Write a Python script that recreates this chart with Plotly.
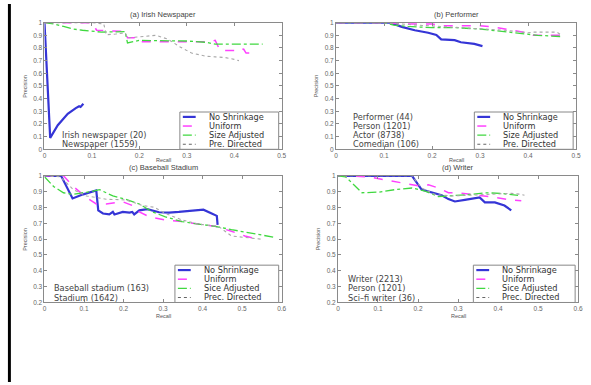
import plotly.graph_objects as go

W, H = 591, 385

# ---------------- data ----------------
titles = ["(a) Irish Newspaper", "(b) Performer", "(c) Baseball Stadium", "(d) Writer"]
series_names_ab = ["No Shrinkage", "Uniform", "Size Adjusted", "Pre. Directed"]
series_names_cd = ["No Shrinkage", "Uniform", "Sice Adjusted", "Prec. Directed"]
notes = [
    ["Irish newspaper (20)", "Newspaper (1559)"],
    ["Performer (44)", "Person (1201)", "Actor (8738)", "Comedian (106)"],
    ["Baseball stadium (163)", "Stadium (1642)"],
    ["Writer (2213)", "Person (1201)", "Sci\u2013fi writer (36)"],
]
x_ticks_ab = [0, 0.1, 0.2, 0.3, 0.4, 0.5]
x_ticks_cd = [0, 0.1, 0.2, 0.3, 0.4, 0.5, 0.6]
y_ticks_ab = [0, 0.1, 0.2, 0.3, 0.4, 0.5, 0.6, 0.7, 0.8, 0.9, 1]
y_ticks_cd = [0.2, 0.3, 0.4, 0.5, 0.6, 0.7, 0.8, 0.9, 1]

# (a) Irish Newspaper
a_ns_x = [0, 0.012, 0.028, 0.049, 0.066, 0.073, 0.076, 0.082]
a_ns_y = [1, 0.09, 0.19, 0.28, 0.325, 0.34, 0.335, 0.36]
a_un_x = [0, 0.10, 0.105, 0.11, 0.17, 0.175, 0.19, 0.195, 0.35, 0.36, 0.37, 0.40, 0.41, 0.42, 0.425, 0.445]
a_un_y = [1, 1, 0.97, 0.94, 0.93, 0.88, 0.88, 0.85, 0.85, 0.86, 0.78, 0.78, 0.80, 0.79, 0.76, 0.76]
a_sa_x = [0, 0.02, 0.04, 0.06, 0.08, 0.10, 0.12, 0.17, 0.175, 0.20, 0.30, 0.34, 0.36, 0.46]
a_sa_y = [1, 0.99, 0.97, 0.95, 0.94, 0.93, 0.925, 0.93, 0.84, 0.86, 0.855, 0.845, 0.83, 0.83]
a_pd_x = [0, 0.10, 0.125, 0.13, 0.15, 0.17, 0.175, 0.20, 0.235, 0.26, 0.285, 0.31, 0.34, 0.36, 0.38, 0.40, 0.41]
a_pd_y = [1, 1, 0.99, 0.905, 0.91, 0.92, 0.88, 0.89, 0.90, 0.87, 0.81, 0.76, 0.735, 0.73, 0.725, 0.71, 0.70]

# (b) Performer
b_ns_x = [0, 0.113, 0.137, 0.164, 0.192, 0.209, 0.219, 0.233, 0.247, 0.26, 0.274, 0.288, 0.305]
b_ns_y = [1, 1, 0.967, 0.94, 0.92, 0.903, 0.868, 0.865, 0.862, 0.845, 0.838, 0.832, 0.815]
b_un_x = [0, 0.1, 0.15, 0.2, 0.22, 0.3, 0.33, 0.36, 0.39, 0.41, 0.47]
b_un_y = [1, 1, 0.99, 0.99, 0.975, 0.975, 0.965, 0.945, 0.925, 0.9, 0.9]
b_sa_x = [0, 0.1, 0.12, 0.15, 0.2, 0.25, 0.3, 0.35, 0.4, 0.42, 0.47]
b_sa_y = [1, 1, 0.98, 0.97, 0.96, 0.96, 0.95, 0.93, 0.91, 0.9, 0.89]
b_pd_x = [0, 0.1, 0.15, 0.2, 0.25, 0.3, 0.35, 0.4, 0.41, 0.46, 0.47]
b_pd_y = [1, 1, 0.985, 0.975, 0.965, 0.955, 0.94, 0.92, 0.925, 0.925, 0.9]

# (c) Baseball Stadium
c_ns_x = [0, 0.042, 0.071, 0.098, 0.131, 0.136, 0.148, 0.164, 0.173, 0.177, 0.198, 0.215, 0.222, 0.227,
          0.24, 0.26, 0.29, 0.315, 0.34, 0.39, 0.402, 0.423, 0.436, 0.438]
c_ns_y = [1, 1, 0.857, 0.883, 0.907, 0.782, 0.762, 0.756, 0.772, 0.756, 0.772, 0.768, 0.772, 0.756,
          0.782, 0.79, 0.77, 0.768, 0.772, 0.782, 0.786, 0.762, 0.747, 0.69]
c_un_x = [0, 0.048, 0.073, 0.106, 0.131, 0.156, 0.198, 0.223, 0.24, 0.265, 0.306, 0.348, 0.39, 0.432,
          0.473, 0.507, 0.54]
c_un_y = [1, 1, 0.933, 0.863, 0.822, 0.822, 0.836, 0.812, 0.772, 0.741, 0.721, 0.711, 0.695, 0.681,
          0.65, 0.62, 0.6]
c_sa_x = [0, 0.023, 0.048, 0.073, 0.123, 0.139, 0.173, 0.206, 0.24, 0.273, 0.306, 0.348, 0.39, 0.432,
          0.473, 0.515, 0.557, 0.585]
c_sa_y = [0.994, 0.933, 0.893, 0.883, 0.903, 0.913, 0.873, 0.852, 0.822, 0.772, 0.741, 0.711, 0.695,
          0.681, 0.66, 0.64, 0.62, 0.61]
c_pd_x = [0, 0.04, 0.073, 0.106, 0.156, 0.206, 0.248, 0.277, 0.306, 0.348, 0.39, 0.44, 0.473, 0.507, 0.548]
c_pd_y = [1, 0.994, 0.913, 0.873, 0.852, 0.848, 0.812, 0.802, 0.762, 0.721, 0.695, 0.681, 0.62, 0.61, 0.6]

# (d) Writer
d_ns_x = [0, 0.185, 0.209, 0.234, 0.259, 0.276, 0.292, 0.317, 0.354, 0.367, 0.392, 0.416, 0.433]
d_ns_y = [1, 1, 0.913, 0.893, 0.877, 0.853, 0.838, 0.848, 0.863, 0.832, 0.832, 0.812, 0.782]
d_un_x = [0, 0.077, 0.118, 0.168, 0.201, 0.226, 0.251, 0.276, 0.3, 0.334, 0.367, 0.392, 0.433, 0.458]
d_un_y = [1, 0.994, 0.974, 0.954, 0.937, 0.943, 0.923, 0.893, 0.893, 0.883, 0.873, 0.863, 0.848, 0.842]
d_sa_x = [0, 0.019, 0.044, 0.06, 0.102, 0.143, 0.185, 0.218, 0.251, 0.284, 0.334, 0.367, 0.408, 0.45]
d_sa_y = [1, 0.994, 0.933, 0.893, 0.897, 0.913, 0.923, 0.903, 0.869, 0.873, 0.883, 0.893, 0.889, 0.877]
d_pd_x = [0, 0.185, 0.209, 0.242, 0.284, 0.334, 0.383, 0.433, 0.458, 0.466]
d_pd_y = [1, 1, 0.923, 0.883, 0.873, 0.877, 0.883, 0.889, 0.883, 0.877]

panel_series = [
    [(a_ns_x, a_ns_y), (a_un_x, a_un_y), (a_sa_x, a_sa_y), (a_pd_x, a_pd_y)],
    [(b_ns_x, b_ns_y), (b_un_x, b_un_y), (b_sa_x, b_sa_y), (b_pd_x, b_pd_y)],
    [(c_ns_x, c_ns_y), (c_un_x, c_un_y), (c_sa_x, c_sa_y), (c_pd_x, c_pd_y)],
    [(d_ns_x, d_ns_y), (d_un_x, d_un_y), (d_sa_x, d_sa_y), (d_pd_x, d_pd_y)],
]

# ---------------- style / layout ----------------
styles = [
    dict(color="#3535d6", width=2.2, dash="solid"),
    dict(color="#ff40ff", width=1.5, dash="dash"),
    dict(color="#40d840", width=1.3, dash="dashdot"),
    dict(color="#a8a8a8", width=1.1, dash="dot"),
]
legend_sample = [
    dict(color="#3535d6", width=2.2, dash="solid"),
    dict(color="#ff40ff", width=1.5, dash="dash"),
    dict(color="#40d840", width=1.3, dash="dashdot"),
    dict(color="#666666", width=1.1, dash="dot"),
]

# pixel boxes of each panel: left, right, top, bottom
boxes = [(43, 283, 19, 148), (338, 581, 19, 148), (43, 283, 175, 304), (340, 583, 175, 304)]
xranges = [[0, 0.5], [0, 0.5], [0, 0.6], [0, 0.6]]
yranges = [[0, 1], [0, 1], [0.2, 1], [0.2, 1]]
xticks = [x_ticks_ab, x_ticks_ab, x_ticks_cd, x_ticks_cd]
yticks = [y_ticks_ab, y_ticks_ab, y_ticks_cd, y_ticks_cd]
legend_w = [100, 100, 105, 103]
note_dx = [17, 16, 9, 9]
recall_dy = [10.5, 10.5, 13.5, 13.5]

def px(x):
    return x / W

def py(y):
    return 1 - y / H

FONT = "Liberation Sans, Arial, sans-serif"
TFONT = "DejaVu Sans, Liberation Sans, sans-serif"
fig = go.Figure()
layout = dict(
    width=W, height=H, margin=dict(l=0, r=0, t=0, b=0),
    paper_bgcolor="white", plot_bgcolor="white", showlegend=False,
    font=dict(family=FONT, color="#555"),
)
shapes = []
annotations = []

for i in range(4):
    l, r, t, b = boxes[i]
    xa = "xaxis" if i == 0 else f"xaxis{i+1}"
    ya = "yaxis" if i == 0 else f"yaxis{i+1}"
    xid = "x" if i == 0 else f"x{i+1}"
    yid = "y" if i == 0 else f"y{i+1}"
    common = dict(showgrid=False, zeroline=False, showline=True, linecolor="#8a8a8a", linewidth=1,
                  mirror="ticks", ticks="inside", ticklen=3, tickcolor="#8a8a8a",
                  tickfont=dict(size=6.5, color="#666", family=FONT))
    layout[xa] = dict(domain=[px(l), px(r)], range=xranges[i], anchor=yid,
                      tickvals=xticks[i], ticktext=[f"{v:g}" for v in xticks[i]], **common)
    layout[ya] = dict(domain=[py(b), py(t)], range=yranges[i], anchor=xid,
                      tickvals=yticks[i], ticktext=[f"{v:g}" for v in yticks[i]], **common)
    names = series_names_ab if i < 2 else series_names_cd
    for k, (sx, sy) in enumerate(panel_series[i]):
        fig.add_trace(go.Scatter(x=sx, y=sy, mode="lines", name=names[k], line=styles[k],
                                 xaxis=xid, yaxis=yid, hoverinfo="skip"))
    # titles and axis labels
    cx = (l + r) / 2
    annotations.append(dict(text=titles[i], x=px(cx), y=py(t - 8), xref="paper", yref="paper",
                            showarrow=False, font=dict(size=7.5, color="#444"), xanchor="center", yanchor="middle",
                            borderpad=0))
    annotations.append(dict(text="Recall", x=px(cx), y=py(b + recall_dy[i]), xref="paper", yref="paper",
                            showarrow=False, font=dict(size=5.5, color="#555"), xanchor="center", yanchor="middle",
                            borderpad=0))
    annotations.append(dict(text="Precision", x=px(l - 20), y=py((t + b) / 2), xref="paper", yref="paper",
                            showarrow=False, textangle=-90, font=dict(size=5.5, color="#555"),
                            xanchor="center", yanchor="middle"))
    # legend box
    lw = legend_w[i]
    lx1 = r - 3
    lx0 = lx1 - lw
    ly1 = b
    ly0 = b - 38
    shapes.append(dict(type="rect", xref="paper", yref="paper", x0=px(lx0), x1=px(lx1), y0=py(ly1), y1=py(ly0),
                       line=dict(color="#888", width=1), fillcolor="white"))
    for k in range(4):
        ry = ly0 + 5 + k * 9.3
        shapes.append(dict(type="line", xref="paper", yref="paper", x0=px(lx0 + 3), x1=px(lx0 + 16),
                           y0=py(ry), y1=py(ry), line=legend_sample[k]))
        annotations.append(dict(text=names[k], x=px(lx0 + 28), y=py(ry), xref="paper", yref="paper",
                                showarrow=False, xanchor="left", yanchor="middle", borderpad=0,
                                font=dict(size=8.2, color="#333", family=TFONT)))
    # note text
    nl = notes[i]
    for k, txt in enumerate(nl):
        ry = b - 5 - (len(nl) - 1 - k) * 9.3
        annotations.append(dict(text=txt, x=px(l + note_dx[i]), y=py(ry), xref="paper", yref="paper",
                                showarrow=False, xanchor="left", yanchor="middle", borderpad=0,
                                font=dict(size=8.2, color="#444", family=TFONT)))

# left page border bar
shapes.append(dict(type="rect", xref="paper", yref="paper", x0=px(6), x1=px(9), y0=0, y1=1,
                   line=dict(width=0), fillcolor="black"))

layout["shapes"] = shapes
layout["annotations"] = annotations
fig.update_layout(**layout)
fig.write_html("out.html")
